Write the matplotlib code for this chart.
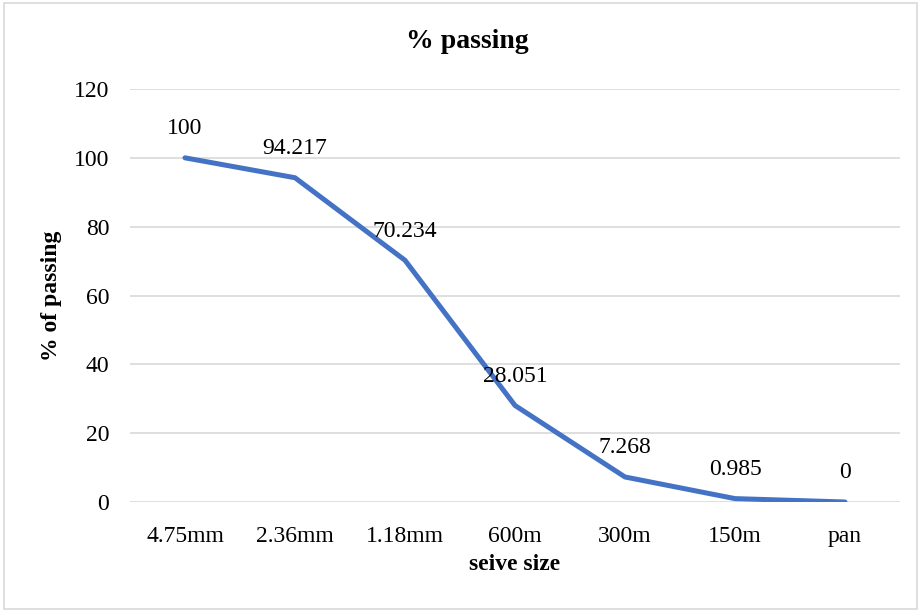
import matplotlib
matplotlib.use("Agg")
import matplotlib.pyplot as plt
from matplotlib.patches import Rectangle

# Sieve analysis results
sieve_sizes = ["4.75mm", "2.36mm", "1.18mm", "600m", "300m", "150m", "pan"]
pct_passing = [100, 94.217, 70.234, 28.051, 7.268, 0.985, 0]
y_ticks = [0, 20, 40, 60, 80, 100, 120]

LINE_COLOR = "#4472C4"
GRID_COLOR = "#D9D9D9"
TEXT_COLOR = "#000000"
FONT = "Liberation Serif"

plt.rcParams["font.family"] = FONT

fig = plt.figure(figsize=(9.21, 6.12), dpi=100)
fig.patch.set_facecolor("white")

# chart border
fig.patches.append(Rectangle((4 / 921, 3 / 612), 913 / 921, 606 / 612,
                             transform=fig.transFigure, facecolor="none",
                             edgecolor=GRID_COLOR, linewidth=1.2))

ax = fig.add_axes([130 / 921, 1 - 502 / 612, 770 / 921, 413 / 612])
x = list(range(len(sieve_sizes)))
ax.plot(x, pct_passing, color=LINE_COLOR, linewidth=3.6, solid_capstyle="round",
        solid_joinstyle="round", zorder=3)

for xi, v in zip(x, pct_passing):
    label = f"{v:g}"
    ax.annotate(label, (xi, v), xytext=(0, 21), textcoords="offset points",
                ha="center", va="center", fontsize=17, color=TEXT_COLOR)

ax.set_xlim(-0.5, len(sieve_sizes) - 0.5)
ax.set_ylim(0, 120)
ax.set_yticks(y_ticks)
ax.set_xticks(x)
ax.set_xticklabels(sieve_sizes)
ax.tick_params(axis="both", length=0, labelsize=17, colors=TEXT_COLOR)
ax.tick_params(axis="x", pad=17)
ax.tick_params(axis="y", pad=15)
ax.grid(axis="y", color=GRID_COLOR, linewidth=1.2)
ax.set_axisbelow(True)
for s in ax.spines.values():
    s.set_visible(False)

fig.text(467 / 921, 1 - 42 / 612, "% passing", ha="center", va="center",
         fontsize=20, fontweight="bold", color=TEXT_COLOR)
fig.text(515 / 921, 1 - 565 / 612, "seive size", ha="center", va="center",
         fontsize=17, fontweight="bold", color=TEXT_COLOR)
fig.text(52 / 921, 1 - 296 / 612, "% of passing", ha="center", va="center",
         rotation=90, fontsize=17, fontweight="bold", color=TEXT_COLOR)

fig.savefig("out.png", dpi=100, facecolor=fig.get_facecolor())
